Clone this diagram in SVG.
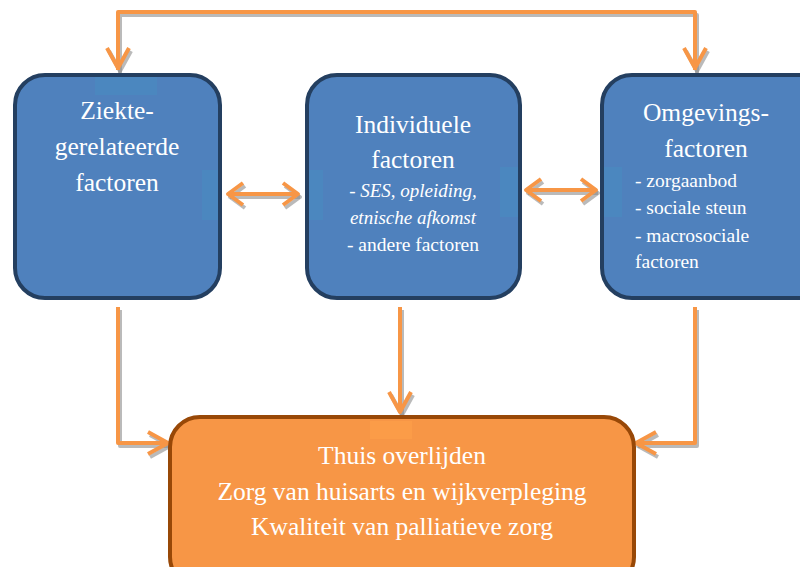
<svg xmlns="http://www.w3.org/2000/svg" width="800" height="567" viewBox="0 0 800 567">
<style>
.box{fill:#4f81bd;stroke:#243f60;stroke-width:4}
.obox{fill:#f79646;stroke:#984807;stroke-width:4}
.t{font-family:"Liberation Serif","DejaVu Serif",serif;fill:#ffffff}
.big{font-size:25.5px}
.sm{font-size:19.5px}
.it{font-style:italic;font-size:19px}
.ln{fill:none;stroke:#f79646;stroke-width:4;stroke-linejoin:round;stroke-linecap:butt}
.sh{fill:none;stroke:#8c8c8c;stroke-width:4;opacity:0.6;stroke-linejoin:round}
.patch{fill:#4a8ac0;opacity:0.7}
</style>
<rect width="800" height="567" fill="#ffffff"/>
<g id="connectors">
  <g transform="translate(2,3)">
    <polyline class="sh" points="118,70 118,12 695,12 695,70"/>
    <polyline class="sh" points="107,48 118,68 129,48"/>
    <polyline class="sh" points="684,48 695,68 706,48"/>
    <polyline class="sh" points="228,194 298,194"/>
    <polyline class="sh" points="243,183 228,194 243,205"/>
    <polyline class="sh" points="283,183 298,194 283,205"/>
    <polyline class="sh" points="526,190 596,190"/>
    <polyline class="sh" points="541,179 526,190 541,201"/>
    <polyline class="sh" points="581,179 596,190 581,201"/>
    <polyline class="sh" points="118,307 118,443 168,443"/>
    <polyline class="sh" points="148,432 168,443 148,454"/>
    <polyline class="sh" points="400,307 400,412"/>
    <polyline class="sh" points="389,392 400,412 411,392"/>
    <polyline class="sh" points="695,307 695,443 636,443"/>
    <polyline class="sh" points="656,432 636,443 656,454"/>
  </g>
  <polyline class="ln" points="118,70 118,12 695,12 695,70"/>
  <polyline class="ln" points="107,48 118,68 129,48"/>
  <polyline class="ln" points="684,48 695,68 706,48"/>
  <polyline class="ln" points="228,194 298,194"/>
  <polyline class="ln" points="243,183 228,194 243,205"/>
  <polyline class="ln" points="283,183 298,194 283,205"/>
  <polyline class="ln" points="526,190 596,190"/>
  <polyline class="ln" points="541,179 526,190 541,201"/>
  <polyline class="ln" points="581,179 596,190 581,201"/>
  <polyline class="ln" points="118,307 118,443 168,443"/>
  <polyline class="ln" points="148,432 168,443 148,454"/>
  <polyline class="ln" points="400,307 400,412"/>
  <polyline class="ln" points="389,392 400,412 411,392"/>
  <polyline class="ln" points="695,307 695,443 636,443"/>
  <polyline class="ln" points="656,432 636,443 656,454"/>
</g>
<g id="node-ziekte">
  <rect class="box" x="15" y="75" width="205" height="223" rx="30"/>
  <rect class="patch" x="95" y="77" width="62" height="18"/>
  <rect class="patch" x="202" y="170" width="16" height="50"/>
  <text class="t big" text-anchor="middle"><tspan x="117" y="119">Ziekte-</tspan><tspan x="117" y="155">gerelateerde</tspan><tspan x="117" y="191">factoren</tspan></text>
</g>
<g id="node-individueel">
  <rect class="box" x="307" y="75" width="213" height="223" rx="30"/>
  <rect class="patch" x="309" y="170" width="14" height="50"/>
  <rect class="patch" x="500" y="167" width="18" height="50"/>
  <text class="t big" text-anchor="middle"><tspan x="413" y="133">Individuele</tspan><tspan x="413" y="168">factoren</tspan></text>
  <text class="t it" text-anchor="middle"><tspan x="413" y="197">- SES, opleiding,</tspan><tspan x="413" y="224">etnische afkomst</tspan></text>
  <text class="t sm" text-anchor="middle" x="413" y="251">- andere factoren</text>
</g>
<g id="node-omgeving">
  <rect class="box" x="602" y="75" width="228" height="223" rx="30"/>
  <rect class="patch" x="604" y="167" width="18" height="50"/>
  <text class="t big" text-anchor="middle"><tspan x="706" y="121">Omgevings-</tspan><tspan x="706" y="157">factoren</tspan></text>
  <text class="t sm"><tspan x="635" y="187">- zorgaanbod</tspan><tspan x="635" y="214">- sociale steun</tspan><tspan x="635" y="242">- macrosociale</tspan><tspan x="635" y="268">factoren</tspan></text>
</g>
<g id="node-uitkomst">
  <rect class="obox" x="170" y="417" width="464" height="170" rx="30"/>
  <rect x="370" y="421" width="42" height="18" fill="#fb9c48"/>
  <text class="t big" text-anchor="middle"><tspan x="402" y="464">Thuis overlijden</tspan><tspan x="402" y="500">Zorg van huisarts en wijkverpleging</tspan><tspan x="402" y="535">Kwaliteit van palliatieve zorg</tspan></text>
</g>
</svg>
